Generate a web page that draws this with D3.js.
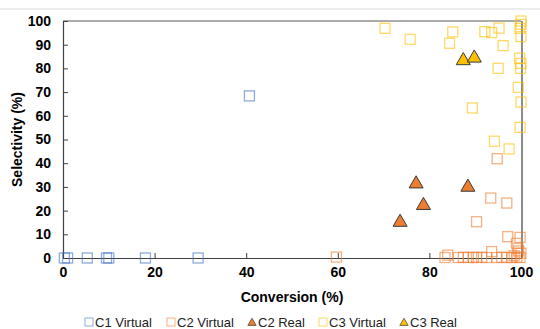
<!DOCTYPE html>
<html>
<head>
<meta charset="utf-8">
<script src="https://cdn.jsdelivr.net/npm/d3@7"></script>
<style>
  body { margin: 0; background: #fff; }
  svg { font-family: "Liberation Sans", Arial, sans-serif; }
</style>
</head>
<body>
<div id="chart"></div>
<script>
// [conversion, selectivity] pairs
var c1Virtual = [[0.3, 0], [1, 0], [5.3, 0], [9.5, 0], [10, 0], [18, 0], [29.5, 0], [40.7, 68.4]];

var c2Virtual = [
    [59.7, 0.4], [83.4, 0.2], [84, 1.2], [86.3, 0.2], [87.4, 0.3], [88.5, 0.2], [89.6, 0.3],
    [90.3, 0.2], [90.3, 15.3], [91.4, 0.3], [92.5, 0.2], [93.6, 2.7], [93.4, 25.3], [94.7, 0.2],
    [94.8, 41.9], [95.8, 0.3], [96.9, 0.2], [96.9, 23.2], [97.1, 9], [98, 0.2], [98.5, 1],
    [99.1, 0.3], [99, 6.2], [99.3, 4.1], [99.8, 8.7], [99.8, 0.2], [100, 2], [99.5, 3]
];

var c2Real = [[73.6, 15.5], [77.1, 31.7], [78.7, 22.6], [88.4, 30.3]];

var c3Virtual = [
    [70.3, 96.9], [75.8, 92.3], [84.4, 90.6], [85.1, 95.4], [92.1, 95.5], [93.6, 95.1],
    [95.2, 97], [96.1, 89.6], [95, 80], [89.4, 63.3], [94.2, 49.3], [97.4, 46],
    [99.4, 72], [100, 65.8], [99.8, 55.1], [100, 100], [100, 98.6], [99.8, 96.9],
    [100, 93.4], [99.7, 84.3], [100, 82.1], [99.9, 80]
];

var c3Real = [[87.4, 83.7], [89.8, 84.8]];

var xTicks = [0, 20, 40, 60, 80, 100];
var yTicks = [0, 10, 20, 30, 40, 50, 60, 70, 80, 90, 100];

var seriesNames = ["C1 Virtual", "C2 Virtual", "C2 Real", "C3 Virtual", "C3 Real"];
var seriesColors = ["#4472C4", "#ED7D31", "#ED7D31", "#FFC000", "#FFC000"];
var seriesShapes = ["square", "square", "triangle", "square", "triangle"];
var seriesData = [c1Virtual, c2Virtual, c2Real, c3Virtual, c3Real];

var width = 540, height = 329;
var plotLeft = 63, plotRight = 521, plotTop = 21, plotBottom = 258;

var svg = d3.select("#chart")
    .append("svg")
    .attr("width", width)
    .attr("height", height);

// faint chart frame edge at the top
svg.append("line")
    .attr("x1", 0).attr("x2", width)
    .attr("y1", 9).attr("y2", 9)
    .attr("stroke", "#d9d9d9");

var x = d3.scaleLinear().domain([0, 100]).range([plotLeft, plotRight]);
var y = d3.scaleLinear().domain([0, 100]).range([plotBottom, plotTop]);

// plot box: top and right edges
svg.append("line")
    .attr("x1", x(0)).attr("x2", x(100))
    .attr("y1", y(100)).attr("y2", y(100))
    .attr("stroke", "#595959").attr("stroke-width", 1.2);
svg.append("line")
    .attr("x1", x(100) + 1).attr("x2", x(100) + 1)
    .attr("y1", y(100)).attr("y2", y(0))
    .attr("stroke", "#8c8c8c").attr("stroke-width", 2);

var xAxis = svg.append("g")
    .attr("transform", "translate(0," + plotBottom + ")")
    .call(d3.axisBottom(x).tickValues(xTicks).tickSizeInner(-5).tickSizeOuter(0).tickPadding(9));
var yAxis = svg.append("g")
    .attr("transform", "translate(" + plotLeft + ",0)")
    .call(d3.axisLeft(y).tickValues(yTicks).tickSizeInner(-5).tickSizeOuter(0).tickPadding(12));

[xAxis, yAxis].forEach(function (g) {
    g.select(".domain").attr("stroke", "#404040").attr("stroke-width", 1.2);
    g.selectAll(".tick line").attr("stroke", "#404040");
    g.selectAll(".tick text")
        .attr("fill", "#000")
        .style("font-size", "14px")
        .style("font-weight", "bold")
        .style("font-family", "'Liberation Sans', Arial, sans-serif");
});

svg.append("text")
    .attr("x", (plotLeft + plotRight) / 2)
    .attr("y", 302)
    .attr("text-anchor", "middle")
    .style("font-size", "14px")
    .style("font-weight", "bold")
    .text("Conversion (%)");

svg.append("text")
    .attr("transform", "translate(22," + ((plotTop + plotBottom) / 2) + ") rotate(-90)")
    .attr("text-anchor", "middle")
    .style("font-size", "14px")
    .style("font-weight", "bold")
    .text("Selectivity (%)");

var triangle = d3.symbol().type(d3.symbolTriangle);

function drawSeries(i) {
    var g = svg.append("g");
    var pts = seriesData[i];
    if (seriesShapes[i] === "square") {
        g.selectAll("rect").data(pts).enter()
            .append("rect")
            .attr("x", function (d) { return x(d[0]) - 5; })
            .attr("y", function (d) { return y(d[1]) - 5; })
            .attr("width", 10)
            .attr("height", 10)
            .attr("fill", "none")
            .attr("stroke", seriesColors[i])
            .attr("stroke-opacity", 0.6)
            .attr("stroke-width", 1.3);
    } else {
        g.selectAll("path").data(pts).enter()
            .append("path")
            .attr("d", triangle.size(85))
            .attr("transform", function (d) { return "translate(" + x(d[0]) + "," + (y(d[1]) + 1) + ")"; })
            .attr("fill", seriesColors[i])
            .attr("stroke", "#3a3a3a")
            .attr("stroke-width", 1);
    }
}

for (var i = 0; i < seriesData.length; i++) drawSeries(i);

// legend
var legendX = [89, 171, 252, 323, 404];
var legend = svg.append("g");
seriesNames.forEach(function (name, i) {
    var cx = legendX[i], cy = 322;
    if (seriesShapes[i] === "square") {
        legend.append("rect")
            .attr("x", cx - 4).attr("y", cy - 4)
            .attr("width", 8).attr("height", 8)
            .attr("fill", "none")
            .attr("stroke", seriesColors[i])
            .attr("stroke-opacity", 0.6);
    } else {
        legend.append("path")
            .attr("d", d3.symbol().type(d3.symbolTriangle).size(30)())
            .attr("transform", "translate(" + cx + "," + (cy + 1) + ")")
            .attr("fill", seriesColors[i])
            .attr("stroke", "#3a3a3a")
            .attr("stroke-width", 0.7);
    }
    legend.append("text")
        .attr("x", cx + 6)
        .attr("y", cy + 4.5)
        .style("font-size", "13px")
        .attr("fill", "#222")
        .text(name);
});
</script>
</body>
</html>
